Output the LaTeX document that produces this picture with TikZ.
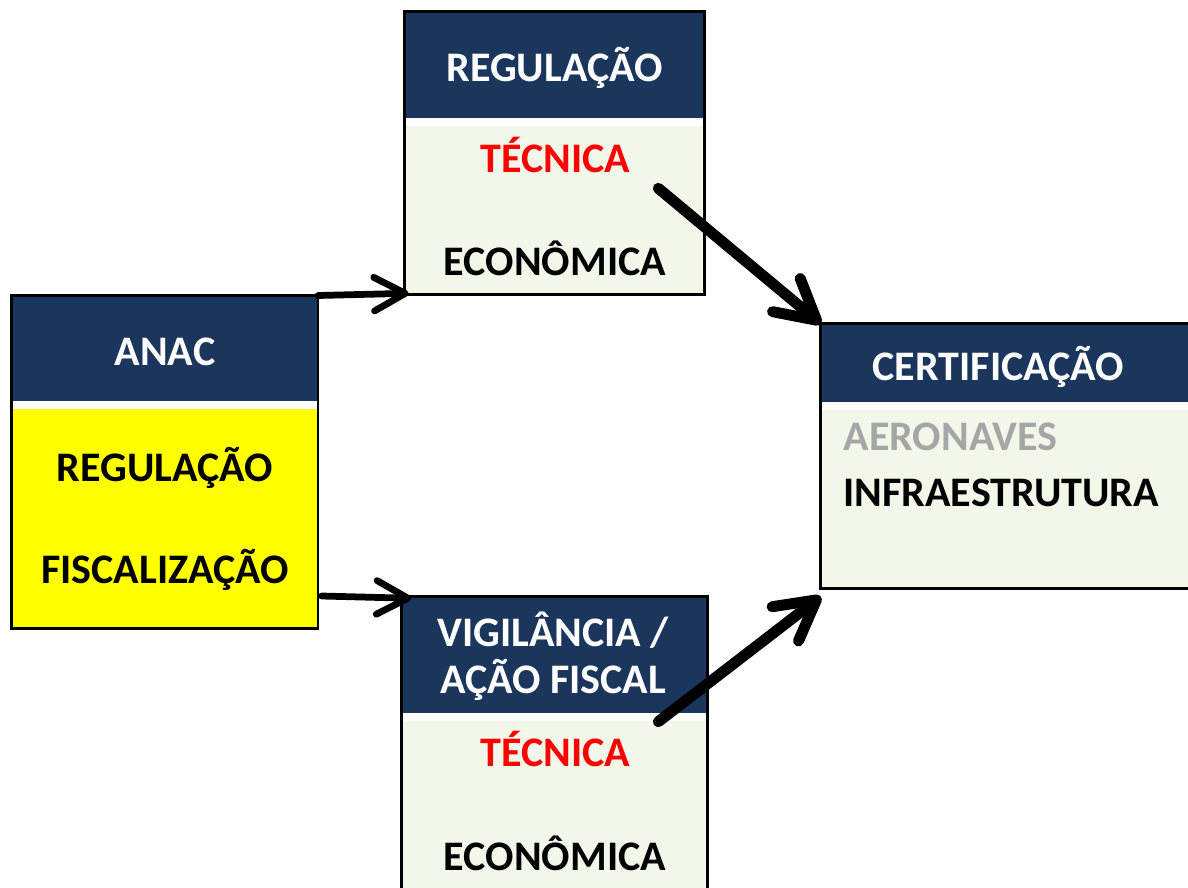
\documentclass[tikz,border=0pt]{standalone}
\usepackage{fontspec}
\setmainfont{Carlito}
\usepackage{tikz}
\usetikzlibrary{arrows.meta,positioning}
\definecolor{anacnavy}{RGB}{27,54,93}
\definecolor{anacpale}{RGB}{241,247,233}
\definecolor{anacyellow}{RGB}{255,255,0}
\definecolor{anacred}{RGB}{255,0,0}
\definecolor{anacgray}{RGB}{166,166,166}
\tikzstyle{hdr} = [rectangle, anchor=north west, inner sep=0pt, outer sep=0pt, fill=anacnavy]
\tikzstyle{bodybox} = [rectangle, anchor=north west, inner sep=0pt, outer sep=0pt, fill=anacpale]
\tikzstyle{frame} = [draw=black, line width=1.9pt]
\tikzstyle{lbl} = [inner sep=0pt, font=\bfseries\fontsize{29.9}{36}\selectfont, text height=0.667cm, text depth=0pt]
\tikzstyle{wlbl} = [lbl, text=white]
\tikzstyle{arrow} = [line width=4.8pt, line cap=round, -{Straight Barb[round, length=0.78cm, width=0.84cm]}]
\tikzstyle{bigarrow} = [line width=7.8pt, line cap=round, -{Straight Barb[round, length=0.98cm, width=1.08cm]}]

\begin{document}
\begin{tikzpicture}[x=0.025cm, y=-0.025cm]
\useasboundingbox (0,0) rectangle (1188,887);
\clip (0,0) rectangle (1188,887);

% ANAC
\node[hdr, minimum width=7.668cm, minimum height=2.63cm] (anachd) at (11.3,295.5) {};
\node[bodybox, fill=anacyellow, minimum width=7.668cm, minimum height=5.495cm, below=0.2cm of anachd.south west, anchor=north west] (anacbd) {};
\draw[frame] (anachd.north west) rectangle (anacbd.south east);
\node[wlbl] (anac) at (165,351.7) {ANAC};
\node[lbl] (anacreg) at (165,468.3) {REGULAÇÃO};
\node[lbl] (anacfisc) at (165,570) {FISCALIZAÇÃO};

% Regulacao
\node[hdr, minimum width=7.5cm, minimum height=2.663cm] (reghd) at (404.7,11.3) {};
\node[bodybox, minimum width=7.5cm, minimum height=4.21cm, below=0.2cm of reghd.south west, anchor=north west] (regbd) {};
\draw[frame] (reghd.north west) rectangle (regbd.south east);
\node[wlbl] (reg) at (554.5,68.3) {REGULAÇÃO};
\node[lbl, text=anacred] (regtec) at (555.5,159.2) {TÉCNICA};
\node[lbl] (regeco) at (555,261.7) {ECONÔMICA};

% Certificacao
\node[hdr, minimum width=9.6cm, minimum height=1.95cm] (certhd) at (820.7,323.7) {};
\node[bodybox, minimum width=9.6cm, minimum height=4.47cm, below=0.2cm of certhd.south west, anchor=north west] (certbd) {};
\draw[frame] (certhd.north west) rectangle (certbd.south east);
\node[wlbl] (cert) at (998.3,367.5) {CERTIFICAÇÃO};
\node[lbl, text=anacgray, anchor=west] (certaer) at (843.3,436.7) {AERONAVES};
\node[lbl, anchor=west] (certinf) at (843.3,493.3) {INFRAESTRUTURA};

% Vigilancia / acao fiscal
\node[hdr, minimum width=7.65cm, minimum height=2.925cm] (vighd) at (401.3,596.3) {};
\node[bodybox, minimum width=7.65cm, minimum height=4.6cm, below=0.2cm of vighd.south west, anchor=north west] (vigbd) {};
\draw[frame] (vighd.north west) rectangle (vigbd.south east);
\node[wlbl] (vig) at (553,633.3) {VIGILÂNCIA /};
\node[wlbl] (vigfisc) at (553,680) {AÇÃO FISCAL};
\node[lbl, text=anacred] (vigtec) at (555.5,753.3) {TÉCNICA};
\node[lbl] (vigeco) at (555,856.7) {ECONÔMICA};

% Arrows
\coordinate (fiscout) at (321.7,596);
\coordinate (regout) at (658.3,188.3);
\coordinate (vigout) at (658.3,721.7);
\draw[arrow] (anachd.north east) -- ([shift={(4,-1)}]regbd.south west);
\draw[arrow] (fiscout) -- ([shift={(10,2)}]vighd.north west);
\draw[bigarrow] (regout) -- (certhd.north west);
\draw[bigarrow] (vigout) -- ([shift={(0,8)}]certbd.south west);
\end{tikzpicture}
\end{document}
